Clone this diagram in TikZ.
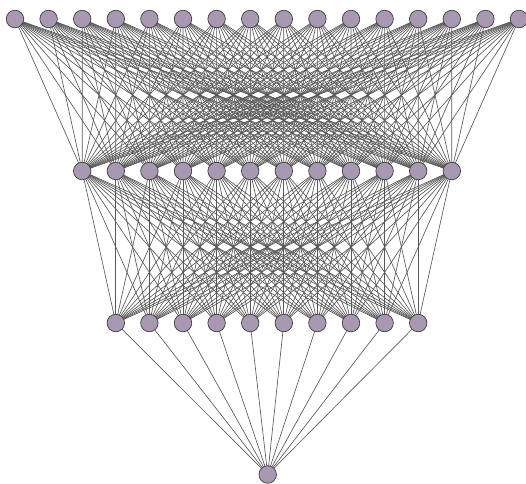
\documentclass[tikz,border=0pt]{standalone}
\usetikzlibrary{backgrounds}
\definecolor{nodefill}{HTML}{A898B2}
\definecolor{nodeedge}{HTML}{444444}
\definecolor{edgecol}{HTML}{585858}
\begin{document}
\begin{tikzpicture}[x=1pt,y=1pt,
  neuron/.style={circle,draw=nodeedge,fill=nodefill,line width=0.75pt,minimum size=17.5pt,inner sep=0pt},
  conn/.style={draw=edgecol,line width=0.65pt}]
\useasboundingbox (0,0) rectangle (526,-483);
\foreach \i in {0,...,15} \node[neuron] (a\i) at ({15+33.6*\i},-19) {};
\foreach \i in {0,...,11} \node[neuron] (b\i) at ({82.2+33.6*\i},-171) {};
\foreach \i in {0,...,9} \node[neuron] (c\i) at ({115.8+33.6*\i},-323) {};
\node[neuron] (d) at (267.7,-474.5) {};
\begin{scope}[on background layer]
\foreach \i in {0,...,15} \foreach \j in {0,...,11} \path[conn] (a\i.center) -- (b\j.center);
\foreach \i in {0,...,11} \foreach \j in {0,...,9} \path[conn] (b\i.center) -- (c\j.center);
\foreach \i in {0,...,9} \path[conn] (c\i.center) -- (d.center);
\end{scope}
\end{tikzpicture}
\end{document}
